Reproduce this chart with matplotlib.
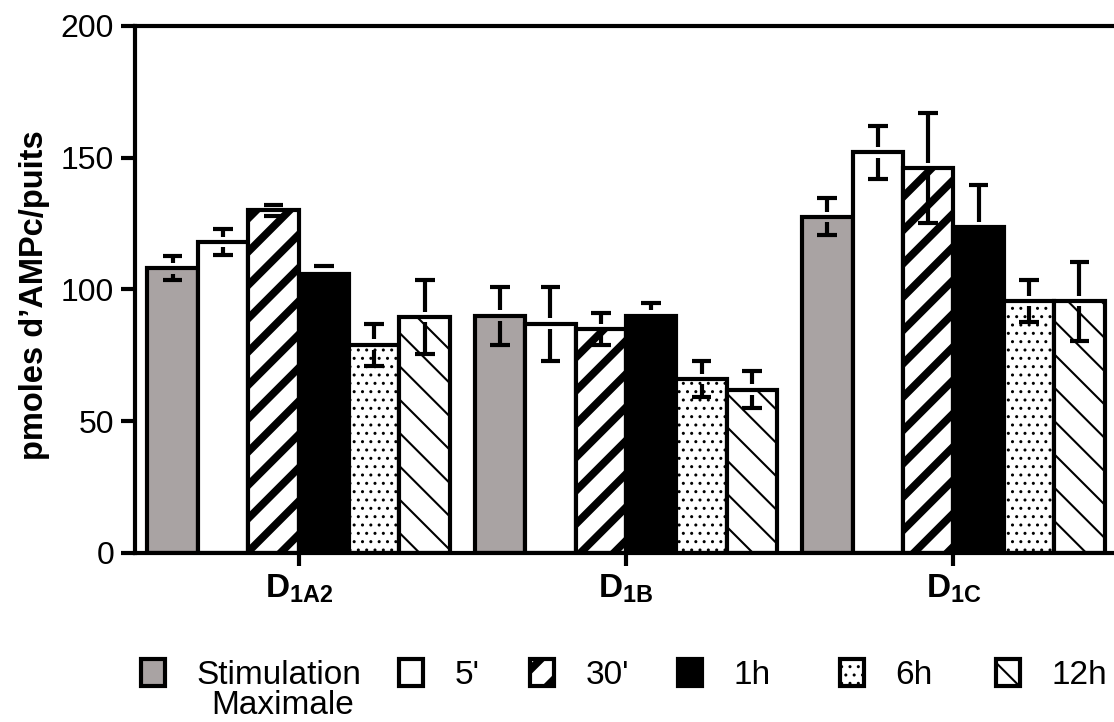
import numpy as np
import matplotlib
matplotlib.use("Agg")
import matplotlib.pyplot as plt
from matplotlib.patches import Patch

plt.rcParams['font.family'] = ['Liberation Sans', 'DejaVu Sans']
plt.rcParams['mathtext.fontset'] = 'custom'
plt.rcParams['mathtext.rm'] = 'Liberation Sans'
plt.rcParams['mathtext.bf'] = 'Liberation Sans:bold'

# data
groups = [r'$\mathbf{D_{1A2}}$', r'$\mathbf{D_{1B}}$', r'$\mathbf{D_{1C}}$']
labels = ['Stimulation', "5'", "30'", '1h', '6h', '12h']
stim = [108, 90, 127.5]
m5 = [118, 87, 152]
m30 = [130, 85, 146]
h1 = [106, 90, 123.5]
h6 = [79, 66, 95.5]
h12 = [89.5, 62, 95.5]
stim_err = [4.5, 11, 7]
m5_err = [5, 14, 10]
m30_err = [2, 6, 21]
h1_err = [3, 5, 16]
h6_err = [8, 7, 8]
h12_err = [14, 7, 15]
yticks = [0, 50, 100, 150, 200]

series = [stim, m5, m30, h1, h6, h12]
errors = [stim_err, m5_err, m30_err, h1_err, h6_err, h12_err]
# (facecolor, hatch, hatch linewidth)
styles = [
    ('#a9a3a3', None, 1.0),
    ('white', None, 1.0),
    ('white', '/', 5.5),
    ('black', None, 1.0),
    ('white', '..', 1.0),
    ('white', '\\', 1.5),
]

W, H = 1114, 722
fig = plt.figure(figsize=(W / 100, H / 100), dpi=100)
ax = fig.add_axes([135 / W, 1 - 553 / H, 982 / W, (553 - 25.7) / H])

x = np.arange(len(groups))
bw = 0.154
gap = 2.0
cap = 0.03

for i, (vals, errs, (fc, hatch, hlw)) in enumerate(zip(series, errors, styles)):
    xs = x + (i - 2.5) * bw
    with plt.rc_context({'hatch.linewidth': hlw}):
        bars = ax.bar(xs, vals, width=bw, color=fc, edgecolor='black',
                      linewidth=3, hatch=hatch, zorder=2)
    for b in bars:
        if hasattr(b, 'set_hatch_linewidth'):
            b.set_hatch_linewidth(hlw)
    # error bars with a small break around the bar top
    for xi, v, e in zip(xs, vals, errs):
        if e > gap:
            ax.vlines(xi, v + gap, v + e, color='black', lw=3, zorder=3)
            ax.vlines(xi, v - e, v - gap, color='black', lw=3, zorder=3)
        ax.hlines([v + e, v - e], xi - cap, xi + cap, color='black', lw=3, zorder=3)

ax.set_xlim(-0.5, 2.5)
ax.set_ylim(0, 200)
ax.set_yticks(yticks)
ax.set_xticks(x)
ax.set_xticklabels(groups, fontsize=24)
ax.tick_params(axis='y', labelsize=23, length=10, width=3, pad=5)
ax.tick_params(axis='x', length=9, width=3, pad=5)
for s in ['left', 'bottom', 'top']:
    ax.spines[s].set_linewidth(3)
    ax.spines[s].set_zorder(4)
ax.spines['right'].set_visible(False)

ax.set_ylabel('pmoles d\u2019AMPc/puits', fontsize=23.5, fontweight='bold')
ax.yaxis.set_label_coords(-0.087, 0.489)

# legend: one entry per box, placed like the reference
handle_x = [141, 399, 530, 678, 840, 996]
fs = 24
for (fc, hatch, hlw), lab, hx in zip(styles, labels, handle_x):
    with plt.rc_context({'hatch.linewidth': hlw}):
        h = Patch(facecolor=fc, edgecolor='black', linewidth=3, hatch=hatch)
        if hasattr(h, 'set_hatch_linewidth'):
            h.set_hatch_linewidth(hlw)
        leg = fig.legend(handles=[h], labels=[lab], loc='center left',
                         bbox_to_anchor=(hx / W, 1 - 675 / H), frameon=False,
                         fontsize=fs, borderpad=0, borderaxespad=0,
                         handlelength=0.72, handleheight=0.85, handletextpad=0.95)
fig.text(283 / W, 0.001, 'Maximale', fontsize=fs, ha='center', va='bottom')

fig.savefig('out.png', dpi=100)
